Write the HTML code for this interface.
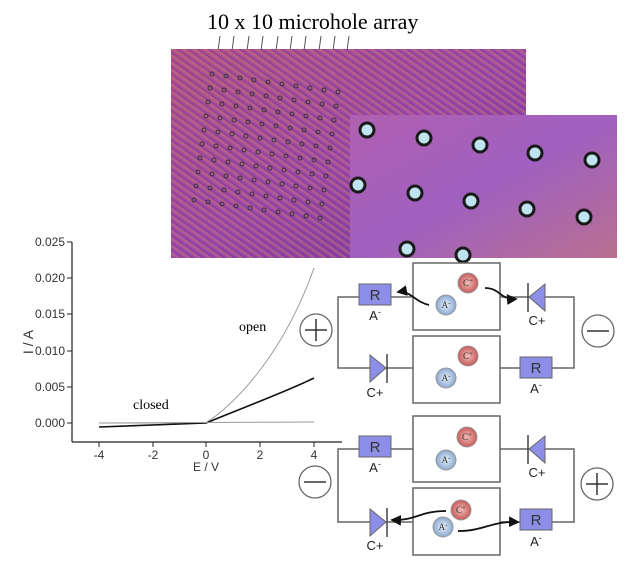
<!DOCTYPE html>
<html><head><style>body{margin:0;background:#fff}svg{display:block}</style></head><body>
<svg width="631" height="570" viewBox="0 0 631 570" font-family="Liberation Sans, sans-serif">
<defs>
<linearGradient id="g1" x1="0" y1="0" x2="1" y2="1">
<stop offset="0" stop-color="#b0508a"/><stop offset="0.5" stop-color="#a04aa8"/><stop offset="1" stop-color="#7a3a9a"/></linearGradient>
<pattern id="st" width="6" height="6" patternUnits="userSpaceOnUse" patternTransform="rotate(35)">
<rect width="6" height="2" fill="#c87a6a" opacity="0.45"/><rect y="4" width="6" height="1" fill="#5a3090" opacity="0.45"/></pattern>
<linearGradient id="g2" x1="0" y1="0" x2="1" y2="1">
<stop offset="0" stop-color="#b060b0"/><stop offset="0.5" stop-color="#a060c0"/><stop offset="1" stop-color="#b87090"/></linearGradient>
<radialGradient id="cr"><stop offset="0" stop-color="#f0c0b8"/><stop offset="1" stop-color="#c85a5a"/></radialGradient>
<radialGradient id="ab"><stop offset="0" stop-color="#e8f0fa"/><stop offset="1" stop-color="#8aa8d0"/></radialGradient>
<marker id="ar" markerWidth="6" markerHeight="6" refX="5" refY="3" orient="auto"><path d="M0,0L6,3L0,6z" fill="#111"/></marker>
</defs>
<text x="207" y="29" font-family="Liberation Serif, serif" font-size="22">10 x 10 microhole array</text>
<g stroke="#555" stroke-width="1">
<line x1="220" y1="36" x2="217" y2="58"/><line x1="234" y1="36" x2="231" y2="58"/><line x1="249" y1="36" x2="246" y2="58"/><line x1="263" y1="36" x2="260" y2="58"/><line x1="278" y1="36" x2="275" y2="58"/><line x1="292" y1="36" x2="289" y2="58"/><line x1="306" y1="36" x2="303" y2="58"/><line x1="321" y1="36" x2="318" y2="58"/><line x1="335" y1="36" x2="332" y2="58"/><line x1="349" y1="36" x2="346" y2="58"/>
</g>
<rect x="171" y="49" width="355" height="209" fill="url(#g1)"/>
<rect x="171" y="49" width="355" height="209" fill="url(#st)"/>
<g fill="none" stroke="#333" stroke-width="1">
<g id="row">
<circle cx="212" cy="74" r="2"/><circle cx="226" cy="76" r="2"/><circle cx="240" cy="78" r="2"/><circle cx="254" cy="80" r="2"/><circle cx="268" cy="82" r="2"/><circle cx="282" cy="84" r="2"/><circle cx="296" cy="86" r="2"/><circle cx="310" cy="88" r="2"/><circle cx="324" cy="90" r="2"/><circle cx="338" cy="92" r="2"/>
</g>
<use href="#row" transform="translate(-2,14)"/><use href="#row" transform="translate(-4,28)"/><use href="#row" transform="translate(-6,42)"/><use href="#row" transform="translate(-8,56)"/><use href="#row" transform="translate(-10,70)"/><use href="#row" transform="translate(-12,84)"/><use href="#row" transform="translate(-14,98)"/><use href="#row" transform="translate(-16,112)"/><use href="#row" transform="translate(-18,126)"/>
</g>
<rect x="350" y="115" width="267" height="143" fill="url(#g2)"/>
<g fill="#bfe4f0" stroke="#1a1a1a" stroke-width="3">
<circle cx="367" cy="130" r="7"/><circle cx="424" cy="138" r="7"/><circle cx="480" cy="145" r="7"/><circle cx="535" cy="153" r="7"/><circle cx="592" cy="160" r="7"/>
<circle cx="358" cy="185" r="7"/><circle cx="415" cy="193" r="7"/><circle cx="471" cy="201" r="7"/><circle cx="527" cy="209" r="7"/><circle cx="584" cy="217" r="7"/>
<circle cx="407" cy="249" r="7"/><circle cx="463" cy="255" r="7"/>
</g>
<g stroke="#222" stroke-width="1.2" fill="none">
<line x1="72" y1="242" x2="72" y2="442"/><line x1="72" y1="442" x2="342" y2="442"/>
</g>
<g stroke="#222" stroke-width="1">
<line x1="67" y1="242" x2="72" y2="242"/><line x1="67" y1="278" x2="72" y2="278"/><line x1="67" y1="314" x2="72" y2="314"/><line x1="67" y1="351" x2="72" y2="351"/><line x1="67" y1="387" x2="72" y2="387"/><line x1="67" y1="423" x2="72" y2="423"/>
<line x1="99" y1="442" x2="99" y2="447"/><line x1="153" y1="442" x2="153" y2="447"/><line x1="206" y1="442" x2="206" y2="447"/><line x1="260" y1="442" x2="260" y2="447"/><line x1="314" y1="442" x2="314" y2="447"/>
</g>
<g font-size="12" fill="#333" text-anchor="end">
<text x="65" y="246">0.025</text><text x="65" y="282">0.020</text><text x="65" y="318">0.015</text><text x="65" y="355">0.010</text><text x="65" y="391">0.005</text><text x="65" y="427">0.000</text>
</g>
<g font-size="12" fill="#333" text-anchor="middle">
<text x="99" y="459">-4</text><text x="153" y="459">-2</text><text x="206" y="459">0</text><text x="260" y="459">2</text><text x="314" y="459">4</text>
<text x="206" y="471">E / V</text>
</g>
<text transform="translate(33,342) rotate(-90)" font-size="14" fill="#333" text-anchor="middle">I / A</text>
<path d="M99,423 L206,423 C240,400 285,350 314,268" stroke="#999" fill="none" stroke-width="1"/>
<path d="M99,427 L206,423 C250,405 290,390 314,378" stroke="#111" fill="none" stroke-width="1.6"/>
<line x1="99" y1="423" x2="314" y2="422" stroke="#999"/>
<text x="239" y="331" font-family="Liberation Serif, serif" font-size="14">open</text>
<text x="133" y="409" font-family="Liberation Serif, serif" font-size="14">closed</text>
<g stroke="#666" stroke-width="1.5" fill="none">
<polyline points="413,297 338,297 338,368 413,368"/>
<polyline points="500,297 574,297 574,368 500,368"/>
<rect x="413" y="263" width="87" height="67" fill="#fff"/>
<rect x="413" y="336" width="87" height="67" fill="#fff"/>
<polyline points="413,449 338,449 338,522 413,522"/>
<polyline points="500,449 574,449 574,522 500,522"/>
<rect x="413" y="416" width="87" height="66" fill="#fff"/>
<rect x="413" y="488" width="87" height="67" fill="#fff"/>
</g>
<g fill="#8c8ee8" stroke="#666" stroke-width="1">
<rect x="359" y="284" width="32" height="21"/><rect x="520" y="357" width="32" height="21"/>
<rect x="359" y="436" width="32" height="21"/><rect x="520" y="509" width="32" height="21"/>
<path d="M545,284 L545,311 L529,297z"/><path d="M370,355 L370,382 L386,368z"/>
<path d="M545,436 L545,463 L529,449z"/><path d="M370,509 L370,536 L386,522z"/>
</g>
<g stroke="#444" stroke-width="1.5">
<line x1="528" y1="283" x2="528" y2="312"/><line x1="387" y1="354" x2="387" y2="383"/>
<line x1="528" y1="435" x2="528" y2="464"/><line x1="387" y1="508" x2="387" y2="537"/>
</g>
<g font-size="15" fill="#333" text-anchor="middle">
<text x="375" y="300">R</text><text x="536" y="373">R</text><text x="375" y="452">R</text><text x="536" y="525">R</text>
</g>
<g font-size="13" fill="#222" text-anchor="middle">
<text x="375" y="320">A<tspan font-size="9" dy="-5">-</tspan></text>
<text x="536" y="393">A<tspan font-size="9" dy="-5">-</tspan></text>
<text x="375" y="472">A<tspan font-size="9" dy="-5">-</tspan></text>
<text x="536" y="546">A<tspan font-size="9" dy="-5">-</tspan></text>
<text x="537" y="325">C+</text><text x="375" y="397">C+</text><text x="537" y="477">C+</text><text x="375" y="550">C+</text>
</g>
<g stroke="#999" stroke-width="1">
<circle cx="468" cy="283" r="10" fill="url(#cr)"/><circle cx="446" cy="305" r="10" fill="url(#ab)"/>
<circle cx="468" cy="356" r="10" fill="url(#cr)"/><circle cx="446" cy="378" r="10" fill="url(#ab)"/>
<circle cx="467" cy="437" r="10" fill="url(#cr)"/><circle cx="446" cy="460" r="10" fill="url(#ab)"/>
<circle cx="461" cy="510" r="10" fill="url(#cr)"/><circle cx="443" cy="527" r="10" fill="url(#ab)"/>
</g>
<g font-family="Liberation Serif, serif" font-size="9" fill="#333" text-anchor="middle">
<text x="468" y="286">C<tspan dy="-3" font-size="7">+</tspan></text><text x="446" y="308">A<tspan dy="-3" font-size="7">-</tspan></text>
<text x="468" y="359">C<tspan dy="-3" font-size="7">+</tspan></text><text x="446" y="381">A<tspan dy="-3" font-size="7">-</tspan></text>
<text x="467" y="440">C<tspan dy="-3" font-size="7">+</tspan></text><text x="446" y="463">A<tspan dy="-3" font-size="7">-</tspan></text>
<text x="461" y="513">C<tspan dy="-3" font-size="7">+</tspan></text><text x="443" y="530">A<tspan dy="-3" font-size="7">-</tspan></text>
</g>
<g stroke="#111" stroke-width="1.8" fill="none" marker-end="url(#ar)">
<path d="M429,305 C415,302 410,290 398,292"/>
<path d="M485,288 C500,288 500,300 516,299"/>
<path d="M446,511 C420,511 415,521 392,520"/>
<path d="M458,531 C485,531 490,521 518,522"/>
</g>
<g stroke="#666" stroke-width="1.3" fill="#fff">
<circle cx="316" cy="330" r="16"/><circle cx="598" cy="331" r="16"/>
<circle cx="315" cy="482" r="16"/><circle cx="597" cy="484" r="16"/>
</g>
<g stroke="#333" stroke-width="1.5">
<line x1="305" y1="330" x2="327" y2="330"/><line x1="316" y1="319" x2="316" y2="341"/>
<line x1="587" y1="331" x2="609" y2="331"/>
<line x1="304" y1="482" x2="326" y2="482"/>
<line x1="586" y1="484" x2="608" y2="484"/><line x1="597" y1="473" x2="597" y2="495"/>
</g>
</svg>
</body></html>
